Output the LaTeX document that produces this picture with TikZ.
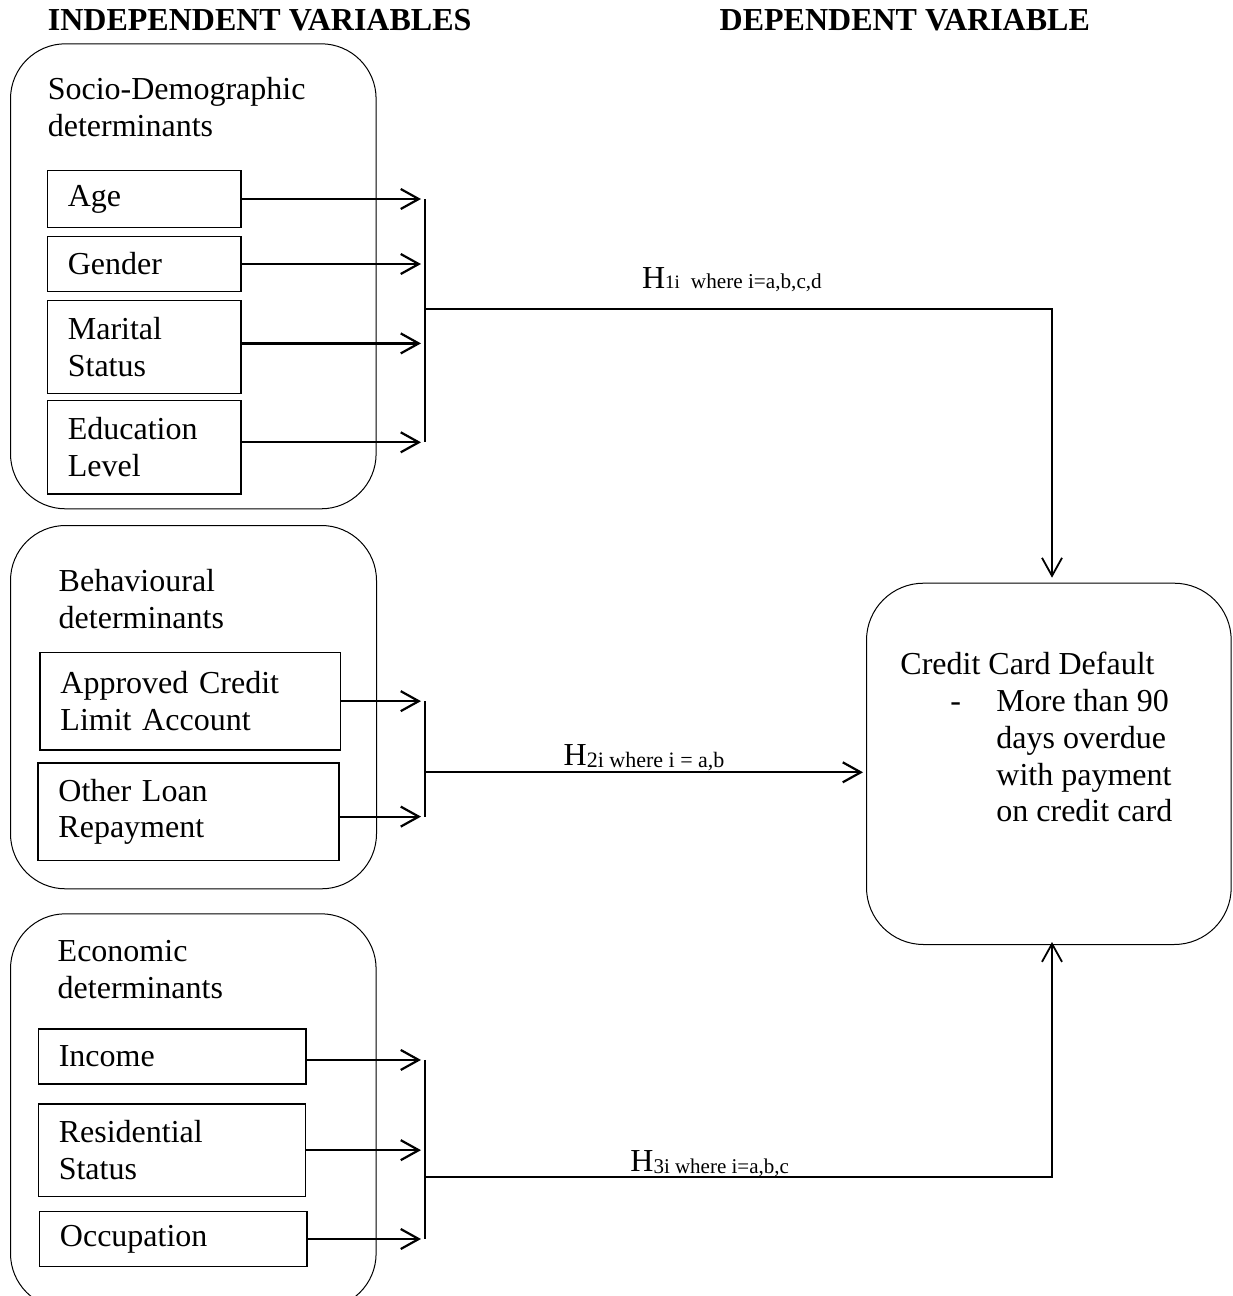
\documentclass[tikz,border=0pt]{standalone}
\usepackage{fontspec}
\setmainfont{Liberation Serif}
\usetikzlibrary{arrows.meta}
\begin{document}
\begin{tikzpicture}[x=0.5pt,y=-0.5pt,
  bodyfont/.style={font=\fontsize{16}{18.3}\selectfont},
  txt/.style={bodyfont, inner sep=0pt, anchor=base west, align=left},
  ttl/.style={font=\fontsize{16}{18.3}\selectfont\bfseries, inner sep=0pt, anchor=base west},
  group/.style={draw, line width=0.5pt, rounded corners=27.5pt, anchor=north west, inner sep=0pt},
  varbox/.style={draw, line width=0.65pt, anchor=north west, inner xsep=10.25pt, inner ysep=0pt, align=left, bodyfont},
  arr/.style={line width=1.1pt, -{Straight Barb[length=9pt,width=10pt]}},
  bar/.style={line width=1pt},
  conn/.style={line width=0.9pt},
  hyp/.style={inner sep=0pt, anchor=base west, bodyfont},
]
\useasboundingbox (0,0) rectangle (1232,1296);
\clip (0,0) rectangle (1232,1296);

% titles
\node[ttl] (tind) at (47.5,30.7) {INDEPENDENT VARIABLES};
\node[ttl] (tdep) at (719.3,30.7) {DEPENDENT VARIABLE};

% group boxes
\node[group, minimum width=182.8pt, minimum height=232.5pt] (g1) at (10,43.3) {};
\node[group, minimum width=183pt, minimum height=181.65pt] (g2) at (10,525) {};
\node[group, minimum width=182.8pt, minimum height=197.35pt] (g3) at (10,913.3) {};

% (base anchor of a multi-line node = baseline of its last line)
\node[txt] (g1t) at (47.4,136) {Socio-Demographic\\determinants};
\node[txt] (g2t) at (58.3,628.3) {Behavioural\\determinants};
\node[txt] (g3t) at (57.3,998.3) {Economic\\determinants};

% variable boxes
\node[varbox, text width=76.35pt, minimum height=28.35pt] (age) at (46.7,170) {Age};
\node[varbox, text width=76.35pt, minimum height=27.65pt] (gender) at (46.7,235.7) {Gender};
\node[varbox, text width=76.35pt, minimum height=46.35pt] (marital) at (46.7,300) {Marital\\Status};
\node[varbox, text width=76.35pt, minimum height=46.65pt] (edu) at (46.7,400) {Education\\Level};

\node[varbox, text width=129.85pt, minimum height=48.8pt] (approved) at (39.3,651.7) {Approved Credit\\Limit Account};
\node[varbox, text width=130pt, minimum height=48.85pt] (other) at (37.3,762.3) {Other Loan\\Repayment};

\node[varbox, text width=113.35pt, minimum height=27.5pt] (income) at (37.6,1028.3) {Income};
\node[varbox, text width=113.2pt, minimum height=46.2pt] (resid) at (37.6,1103.3) {Residential\\Status};
\node[varbox, text width=113.3pt, minimum height=27.35pt] (occup) at (38.8,1211) {Occupation};

% dependent variable box
\node[group, rounded corners=28.5pt, minimum width=182.35pt, minimum height=180.65pt] (credit) at (866,582.7) {};
\node[txt] (ccd) at (900,674.3) {Credit Card Default};
\node[txt] (dash) at (950,711.7) {-};
\node[txt] (item) at (996,821.7) {More than 90\\days overdue\\with payment\\on credit card};

% helper coordinates
\coordinate (tip) at (421,0);
\coordinate (barx) at (425,0);
\coordinate (cx) at (1052,0);

% arrows into bars
\foreach \n/\s in {age/0pt, gender/0pt, marital/1.8pt, edu/2.5pt,
                   approved/0pt, other/-2.4pt,
                   income/-1.75pt, resid/0pt, occup/0pt}{
  \draw[arr] ([yshift=\s]\n.east) coordinate (s\n) -- (s\n -| tip);
}

% bars
\draw[bar] (sage -| barx) -- (sedu -| barx);
\draw[bar] (sapproved -| barx) -- (sother -| barx);
\draw[bar] (sincome -| barx) -- (soccup -| barx);

% junctions
\coordinate (j1) at (425,309.3);
\coordinate (j2) at (425,772.3);
\coordinate (j3) at (425,1176.7);

\draw[conn, -{Straight Barb[length=9pt,width=10pt]}, shorten >=2.5pt] (j1) -- (j1 -| cx) -- (cx |- credit.north);
\draw[conn, line width=1.1pt, -{Straight Barb[length=9pt,width=10pt]}, shorten >=1.5pt] (j2) -- (j2 -| credit.west);
\draw[conn, -{Straight Barb[length=9pt,width=10pt]}, shorten >=-1.5pt] (j3) -- (j3 -| cx) -- (cx |- credit.south);

% hypothesis labels
\node[hyp] (h1) at (641.7,288.3) {H{\fontsize{9.5}{11}\selectfont 1i}\hspace{5.5pt}{\fontsize{10.6}{12}\selectfont where i=a,b,c,d}};
\node[hyp] (h2) at (563.3,765) {H\raisebox{-1.2pt}{\fontsize{11}{12}\selectfont 2i where i = a,b}};
\node[hyp] (h3) at (630,1171.7) {H\raisebox{-1pt}{\fontsize{10.5}{12}\selectfont 3i where i=a,b,c}};
\end{tikzpicture}
\end{document}
